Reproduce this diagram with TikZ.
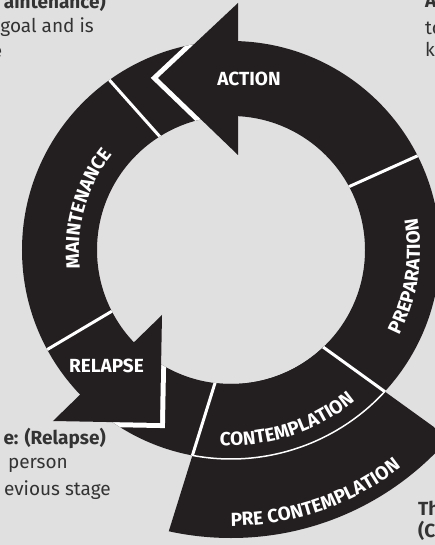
\documentclass[tikz,border=0pt]{standalone}
\usepackage{fontspec}
\setmainfont{Fira Sans}
\usetikzlibrary{decorations.text}
\definecolor{ringdark}{HTML}{231F20}
\definecolor{paper}{HTML}{E0E0E0}
\definecolor{inkgrey}{HTML}{333333}
\newcommand\stagefont{\bfseries\fontsize{19}{21}\selectfont}
\newcommand\notefont{\fontsize{19}{24}\selectfont}
\begin{document}
\begin{tikzpicture}[x=1pt,y=1pt,
		ringfill/.style={fill=ringdark},
		gapline/.style={draw=white,line width=3pt},
		halo/.style={draw=white,line width=10pt,line join=miter},
		stagelabel/.style={text=white,font=\stagefont,inner sep=0pt},
		curvedlabel/.style={decorate,decoration={text along path,text align=center,text color=white,text={|\stagefont|#1}}},
		sidenote/.style={text=inkgrey,font=\notefont,inner sep=0pt},
		sidehead/.style={text=inkgrey,font=\notefont\bfseries,inner sep=0pt}]
			\useasboundingbox (-231,-295) rectangle (204,250);
			\clip (-231,-295) rectangle (204,250);
			\fill[paper] (-231,-295) rectangle (204,250);
			\coordinate (hub) at (0,0);
			\fill[ringfill, even odd rule] (hub) circle[radius=209pt] (hub) circle[radius=134pt];
			\begin{scope}
				\clip (13,-40) -- (-132,-505) -- (408,-325) -- cycle;
				\fill[ringfill, even odd rule] (hub) circle[radius=288pt] (hub) circle[radius=134pt];
			\end{scope}
			\begin{scope}
				\clip (0:209pt) arc[start angle=0,end angle=360,radius=209pt] -- (0:134pt) arc[start angle=360,end angle=0,radius=134pt] -- cycle;
				\draw[gapline] (28.7:120pt) -- (26.6:225pt);
				\draw[gapline] (121:120pt) -- (126:225pt);
				\draw[gapline] (206.8:120pt) -- (208.6:225pt);
				\draw[gapline] (13,-40) -- (-132,-505);
				\draw[gapline] (13,-40) -- (408,-325);
				\coordinate (actwingA) at (7,247);
				\coordinate (acttip) at (-73,172);
				\coordinate (actwingB) at (7,95);
				\coordinate (relwingA) at (-69,-65);
				\coordinate (reltip) at (-71,-173);
				\coordinate (relwingB) at (-178,-171);
				\draw[halo] (actwingA) -- (acttip) -- (actwingB);
				\draw[halo] (relwingA) -- (reltip) -- (relwingB);
			\end{scope}
			\draw[white, line width=1.5pt] (259.3:209pt) arc[start angle=259.3,end angle=317.4,radius=209pt];
			\fill[ringfill] (actwingA) -- (acttip) -- (actwingB) -- cycle;
			\fill[ringfill] (relwingA) -- (reltip) -- (relwingB) -- cycle;
			\node[stagelabel] (action) at (18,171.5) {ACTION};
			\node[stagelabel] (relapse) at (-124.5,-115.5) {RELAPSE};
			\path[curvedlabel=MAINTENANCE] (200:152pt) arc[start angle=200,end angle=128,radius=152pt];
			\path[curvedlabel=PREPARATION] (-40:189pt) arc[start angle=-40,end angle=23,radius=189pt];
			\path[curvedlabel=CONTEMPLATION] (258:195.5pt) arc[start angle=258,end angle=318,radius=195.5pt];
			\path[curvedlabel=PRE CONTEMPLATION] (260:276pt) arc[start angle=260,end angle=318,radius=276pt];
			\node[sidehead, anchor=base east] (maintnote) at (-125,241) {aintenance)};
			\node[sidenote, anchor=base east] (maintgoal) at (-137,217) {goal and is};
			\node[sidenote, anchor=base east] (mainttail) at (-228.5,192) {e};
			\node[sidehead, anchor=base west] (actnote) at (194,242) {A};
			\node[sidenote, anchor=base west] (actto) at (194,215) {to};
			\node[sidenote, anchor=base west] (actk) at (194,193) {k};
			\node[sidehead, anchor=base east] (relnote) at (-125,-194) {e: (Relapse)};
			\node[sidenote, anchor=base east] (relperson) at (-163,-218) {person};
			\node[sidenote, anchor=base east] (relstage) at (-120,-245) {evious stage};
			\node[sidehead, anchor=base west] (prenote) at (187,-265) {Th};
			\node[sidehead, anchor=base west] (preC) at (187,-287) {(C};
		\end{tikzpicture}
\end{document}
